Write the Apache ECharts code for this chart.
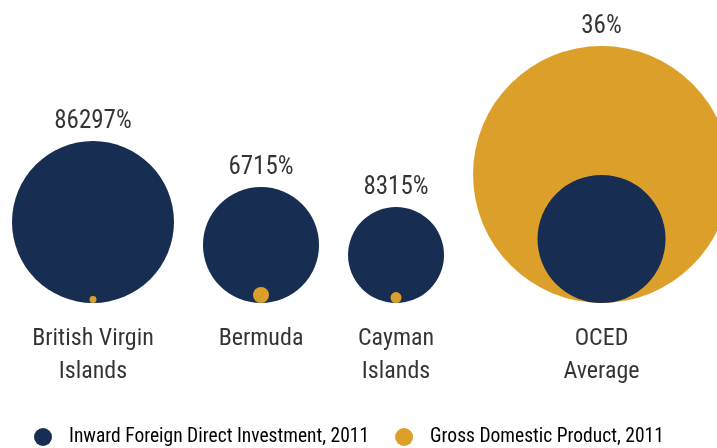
<!DOCTYPE html>
<html>
<head>
<meta charset="utf-8">
<script src="https://cdn.jsdelivr.net/npm/echarts@6/dist/echarts.min.js"></script>
<style>
    html, body { margin: 0; padding: 0; background: #fff; }
    #chart_container { width: 717px; height: 448px; }
</style>
</head>
<body>
<div id="chart_container"></div>
<script>
"use strict";

// data
const categories = ['British Virgin\nIslands', 'Bermuda', 'Cayman\nIslands', 'OCED\nAverage'];
const fdiPctOfGdp = [86297, 6715, 8315, 36];
// relative circle areas
const fdiSize = [102.5, 52.6, 36, 64];
const gdpSize = [0.19, 1, 0.47, 258];
const seriesNames = ['Inward Foreign Direct Investment, 2011', 'Gross Domestic Product, 2011'];

const NAVY = '#172d52';
const GOLD = '#dca02a';
const TEXT = '#000';
const FONT = '"Roboto Condensed", "DejaVu Sans Condensed", sans-serif';

let scale = 16;     // px per sqrt(area unit)
let gap = 29;       // space between groups
let leftPad = 12;
let diam = v => Math.sqrt(v) * scale;

// group centres: circles packed left to right
let centers = [];
let cursor = leftPad;
categories.forEach((c, i) => {
    let w = Math.max(diam(fdiSize[i]), diam(gdpSize[i]));
    centers.push(cursor + w / 2);
    cursor += w + gap;
});

// a circle sitting on the baseline
let point = (i, d) => ({
    value: [centers[i], 0],
    symbolSize: d,
    symbolOffset: [0, -d / 2]
});

let circleSeries = (name, sizes, others, color) => {
    let back = [], front = [];
    sizes.forEach((v, i) => {
        let item = point(i, diam(v));
        if (v >= others[i]) back.push(item); else front.push(item);
    });
    let base = {
        type: 'scatter', name: name, symbol: 'circle', silent: true,
        itemStyle: { color: color, opacity: 1 }
    };
    return [
        Object.assign({}, base, { z: 2, data: back }),
        Object.assign({}, base, { z: 3, data: front })
    ];
};

let pctLabels = {
    type: 'scatter', name: 'pct', silent: true, z: 4,
    itemStyle: { color: 'rgba(0,0,0,0)' },
    label: {
        show: true, position: 'top', distance: 7,
        fontFamily: FONT, fontSize: 25, color: TEXT,
        formatter: p => fdiPctOfGdp[p.dataIndex] + '%'
    },
    data: categories.map((c, i) => point(i, Math.max(diam(fdiSize[i]), diam(gdpSize[i]))))
};

let catLabels = {
    type: 'scatter', name: 'cat', silent: true, z: 4,
    symbolSize: 0,
    label: {
        show: true, position: 'bottom', distance: 19,
        fontFamily: FONT, fontSize: 24, lineHeight: 33, color: TEXT,
        align: 'center',
        formatter: p => categories[p.dataIndex]
    },
    data: categories.map((c, i) => [centers[i], 0])
};

let option = {
    animation: false,
    backgroundColor: '#fff',
    grid: { left: 0, right: 0, top: 0, bottom: 145 },
    xAxis: { type: 'value', min: 0, max: 717, show: false },
    yAxis: { type: 'value', min: 0, max: 1, show: false },
    legend: {
        data: seriesNames,
        icon: 'circle',
        itemWidth: 18, itemHeight: 18,
        itemGap: 26,
        left: 29, top: 422,
        selectedMode: false,
        textStyle: { fontFamily: FONT, fontSize: 19.5, color: TEXT, padding: [0, 0, 0, 12] }
    },
    series: [
        ...circleSeries(seriesNames[0], fdiSize, gdpSize, NAVY),
        ...circleSeries(seriesNames[1], gdpSize, fdiSize, GOLD),
        pctLabels,
        catLabels
    ]
};

let pageLoaded = () => {
    let chartDom = document.getElementById('chart_container');
    let myChart = echarts.init(chartDom);
    myChart.setOption(option);
};

window.addEventListener('load', pageLoaded, false);
</script>
</body>
</html>
